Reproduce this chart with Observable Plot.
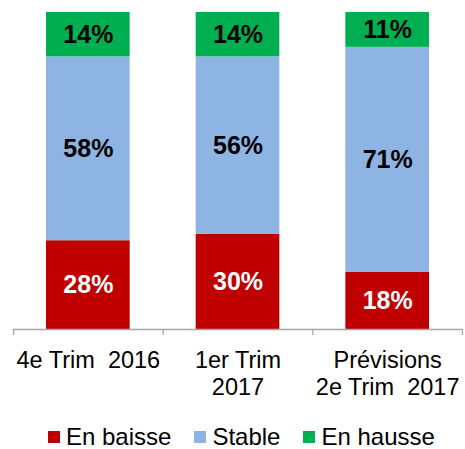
<!DOCTYPE html>
<html><head><meta charset="utf-8">
<script src="https://cdn.jsdelivr.net/npm/d3@7"></script>
<script src="https://cdn.jsdelivr.net/npm/@observablehq/plot@0.6"></script>
<style>
body{margin:0;background:#fff;font-family:"Liberation Sans",Arial,sans-serif;}
svg text{white-space:pre;}
#legend{position:absolute;left:48px;top:425px;display:flex;align-items:center;font-size:24px;line-height:24px;color:#000;}
#legend .sw{width:12px;height:12px;margin-right:6px;}
#legend .it{display:flex;align-items:center;margin-right:23px;}
</style></head>
<body>
<div id="chart"></div>
<div id="legend"></div>
<script>
const categories = ["4e Trim  2016", "1er Trim\n2017", "Prévisions\n2e Trim  2017"];
const series = ["En baisse", "Stable", "En hausse"];
const baisse = [28, 30, 18];
const stable = [58, 56, 71];
const hausse = [14, 14, 11];
const colors = ["#C00000", "#8EB4E3", "#00B050"];

const rows = [];
categories.forEach((c, i) => {
  let acc = 0;
  [baisse, stable, hausse].forEach((arr, s) => {
    const v = arr[i];
    rows.push({i, s, series: series[s], v, y1: acc, y2: acc + v});
    acc += v;
  });
});

const chart = Plot.plot({
  width: 465, height: 410,
  marginTop: 12, marginBottom: 81, marginLeft: 13, marginRight: 3,
  x: {domain: [0, 3]},
  y: {domain: [0, 100], axis: null},
  color: {domain: series, range: colors},
  style: {fontFamily: '"Liberation Sans", Arial, sans-serif', background: "white", color: "black"},
  marks: [
    Plot.rect(rows, {x1: d => d.i, x2: d => d.i + 1, y1: "y1", y2: "y2", fill: "series", insetLeft: 33, insetRight: 33}),
    Plot.text(rows.filter(d => d.s === 0), {x: d => d.i + 0.5, y: d => (d.y1 + d.y2) / 2, text: d => d.v + "%", fill: "white", fontSize: 25, fontWeight: "bold"}),
    Plot.text(rows.filter(d => d.s !== 0), {x: d => d.i + 0.5, y: d => (d.y1 + d.y2) / 2, text: d => d.v + "%", fill: "black", fontSize: 25, fontWeight: "bold"}),
    Plot.ruleY([0], {stroke: "#A6A6A6", strokeWidth: 1.3}),
    Plot.axisX({ticks: [0, 1, 2, 3], tickSize: 6, tickFormat: () => "", stroke: "#A6A6A6", strokeWidth: 1.3}),
    Plot.axisX({ticks: [0.5, 1.5, 2.5], tickSize: 0, tickPadding: 20, tickFormat: t => categories[Math.floor(t)], fontSize: 23.5, lineHeight: 1.12, fill: "black"})
  ]
});
document.getElementById("chart").append(chart);

const legend = document.getElementById("legend");
series.forEach((s, k) => {
  const it = document.createElement("div");
  it.className = "it";
  const sw = document.createElement("div");
  sw.className = "sw";
  sw.style.background = colors[k];
  const tx = document.createElement("span");
  tx.textContent = s;
  it.append(sw, tx);
  legend.append(it);
});
</script>
</body></html>
